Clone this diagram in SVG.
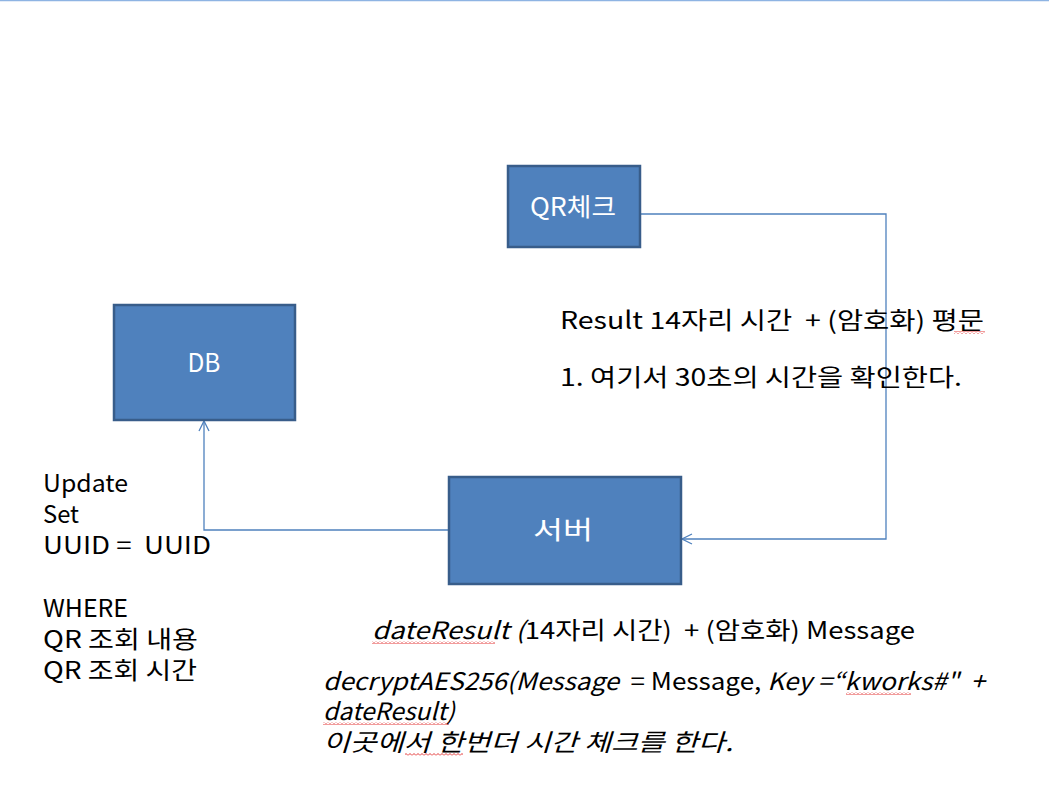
<svg xmlns="http://www.w3.org/2000/svg" width="1049" height="788" viewBox="0 0 1049 788" xml:space="preserve">
<style>
.box{fill:#4F81BD;stroke:#385D8A;stroke-width:2.5}
.lbl{font-family:"Noto Sans CJK KR","Malgun Gothic",sans-serif;font-size:25px;fill:#FFFFFF;text-anchor:middle;white-space:pre}
.t{font-family:"Noto Sans CJK KR","Malgun Gothic",sans-serif;font-size:24px;fill:#000000;white-space:pre}
.i{font-style:italic}
.conn{fill:none;stroke:#4F81BD;stroke-width:1.3}
</style>
<defs>
<marker id="open" viewBox="0 0 12 12" refX="11" refY="6" markerWidth="12" markerHeight="12" markerUnits="userSpaceOnUse" orient="auto">
<path d="M1,1 L11,6 L1,11" fill="none" stroke="#4F81BD" stroke-width="1.3"/>
</marker>
<pattern id="wave" width="4" height="3" patternUnits="userSpaceOnUse">
<path d="M0,2.5 L2,0.5 L4,2.5" fill="none" stroke="#E02020" stroke-width="0.9"/>
</pattern>
</defs>
<rect width="1049" height="788" fill="#FFFFFF"/>
<line x1="0" y1="0.5" x2="1049" y2="0.5" stroke="#8EB4E3" stroke-width="1.5"/>
<g id="connectors">
<polyline class="conn" points="640,214 886,214 886,539 682,539" marker-end="url(#open)"/>
<polyline class="conn" points="449,530 204,530 204,421" marker-end="url(#open)"/>
</g>
<g id="qr">
<rect class="box" x="508" y="166" width="132" height="81"/>
<text class="lbl" x="573" y="216" textLength="86" lengthAdjust="spacingAndGlyphs">QR체크</text>
</g>
<g id="db">
<rect class="box" x="114" y="305" width="181" height="115"/>
<text class="lbl" x="204" y="372" textLength="33" lengthAdjust="spacingAndGlyphs">DB</text>
</g>
<g id="server">
<rect class="box" x="449" y="477" width="232" height="107"/>
<text class="lbl" x="563" y="539" textLength="60" lengthAdjust="spacingAndGlyphs">서버</text>
</g>
<g id="labels">
<text class="t"><tspan x="43" y="492" textLength="85" lengthAdjust="spacingAndGlyphs">Update</tspan><tspan x="43" y="523" textLength="36" lengthAdjust="spacingAndGlyphs">Set</tspan><tspan x="43" y="554" textLength="168" lengthAdjust="spacingAndGlyphs">UUID =  UUID</tspan><tspan x="43" y="617" textLength="85" lengthAdjust="spacingAndGlyphs">WHERE</tspan><tspan x="43" y="648" textLength="155" lengthAdjust="spacingAndGlyphs">QR 조회 내용</tspan><tspan x="43" y="679" textLength="154" lengthAdjust="spacingAndGlyphs">QR 조회 시간</tspan></text>
<text class="t" x="560" y="329" textLength="424" lengthAdjust="spacingAndGlyphs">Result 14자리 시간  + (암호화) 평문</text>
<text class="t" x="560" y="386" textLength="402" lengthAdjust="spacingAndGlyphs">1. 여기서 30초의 시간을 확인한다.</text>
<text class="t" x="372" y="639" textLength="543" lengthAdjust="spacingAndGlyphs"><tspan class="i">dateResult (</tspan>14자리 시간)  + (암호화) Message</text>
<text class="t"><tspan x="323" y="690" textLength="662" lengthAdjust="spacingAndGlyphs"><tspan class="i">decryptAES256(Message</tspan>  = Message, <tspan class="i">Key =“kworks#"  +</tspan></tspan><tspan class="i" x="323" y="720" textLength="132" lengthAdjust="spacingAndGlyphs">dateResult)</tspan><tspan class="i" x="323" y="751" textLength="410" lengthAdjust="spacingAndGlyphs">이곳에서 한번더 시간 체크를 한다.</tspan></text>
</g>
<g id="spellcheck">
<rect x="954" y="331" width="31" height="3" fill="url(#wave)"/>
<rect x="372" y="641" width="123" height="3" fill="url(#wave)"/>
<rect x="846" y="692" width="65" height="3" fill="url(#wave)"/>
<rect x="323" y="722" width="126" height="3" fill="url(#wave)"/>
<rect x="405" y="753" width="58" height="3" fill="url(#wave)"/>
</g>
</svg>
